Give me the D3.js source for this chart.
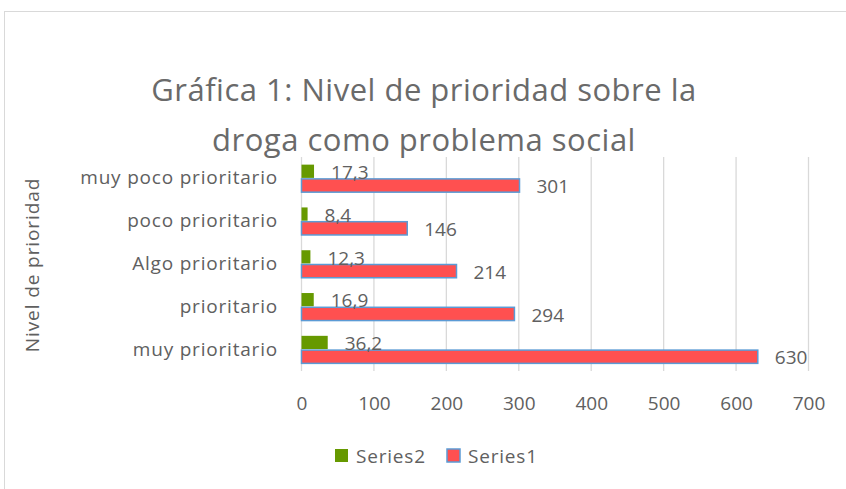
<!DOCTYPE html>
<html>
<head>
<meta charset="utf-8">
<script src="https://cdn.jsdelivr.net/npm/d3@7"></script>
<style>
  body { margin: 0; background: #fff; }
  svg text { font-family: "Open Sans", sans-serif; fill: #606060; }
</style>
</head>
<body>
<div id="chart"></div>
<script>
// data, top row first (as drawn)
var categories = ["muy poco prioritario", "poco prioritario", "Algo prioritario", "prioritario", "muy prioritario"];
var series1 = [301, 146, 214, 294, 630];
var series2 = [17.3, 8.4, 12.3, 16.9, 36.2];
var seriesNames = ["Series2", "Series1"];
var xTicks = [0, 100, 200, 300, 400, 500, 600, 700];
var titleLines = ["Gráfica 1: Nivel de prioridad sobre la", "droga como problema social"];
var yTitle = "Nivel de prioridad";

var width = 846, height = 489;
var colors = { Series2: "#669900", Series1: "#ff5050" };

var svg = d3.select("#chart")
    .append("svg")
    .attr("width", width)
    .attr("height", height);

// chart area border (runs past the right/bottom edges)
svg.append("rect")
    .attr("x", 4.5).attr("y", 11.5)
    .attr("width", 900).attr("height", 600)
    .attr("fill", "#fff")
    .attr("stroke", "#d9d9d9");

var x = d3.scaleLinear().domain([0, 700]).range([301.5, 808.5]);
var y = d3.scaleBand().domain(categories).range([157, 371])
    .paddingInner(1 / 3).paddingOuter(1 / 6);
var ySub = d3.scaleBand().domain(seriesNames).range([0, y.bandwidth()]);

// title
svg.append("g").selectAll("text")
    .data(titleLines)
    .enter().append("text")
    .attr("x", 424)
    .attr("y", function(d, i) { return 101 + i * 50; })
    .attr("text-anchor", "middle")
    .style("font-size", "31px")
    .style("letter-spacing", "0.5px")
    .style("fill", "#6a6a6a")
    .text(function(d) { return d; });

// gridlines
svg.append("g").selectAll("line")
    .data(xTicks)
    .enter().append("line")
    .attr("x1", function(d) { return x(d); })
    .attr("x2", function(d) { return x(d); })
    .attr("y1", 157).attr("y2", 371)
    .attr("stroke", "#d9d9d9")
    .attr("stroke-width", 1.3);

// x axis labels
var xAxis = d3.axisBottom(x).tickValues(xTicks).tickSize(0).tickPadding(0);
var gx = svg.append("g")
    .attr("transform", "translate(0,396)")
    .call(xAxis);
gx.select(".domain").remove();
gx.selectAll("text")
    .style("font-size", "19px")
    .attr("dy", "0.75em")
    .attr("fill", "#606060");

// category labels
var yAxis = d3.axisLeft(y).tickSize(0).tickPadding(0);
var gy = svg.append("g")
    .attr("transform", "translate(278,0)")
    .call(yAxis);
gy.select(".domain").remove();
gy.selectAll("text")
    .style("font-size", "19px")
    .style("letter-spacing", "0.8px")
    .attr("fill", "#606060");

// y title
svg.append("text")
    .attr("transform", "translate(39,265) rotate(-90)")
    .attr("text-anchor", "middle")
    .style("font-size", "19px")
    .style("letter-spacing", "0.9px")
    .text(yTitle);

// bars
var rows = categories.map(function(c, i) {
    return { cat: c, Series2: series2[i], Series1: series1[i] };
});

var groups = svg.append("g").selectAll("g")
    .data(rows)
    .enter().append("g")
    .attr("transform", function(d) { return "translate(0," + y(d.cat) + ")"; });

groups.selectAll("rect")
    .data(function(d) {
        return seriesNames.map(function(s) { return { key: s, value: d[s] }; });
    })
    .enter().append("rect")
    .attr("x", x(0))
    .attr("y", function(d) { return ySub(d.key) + 0.5; })
    .attr("width", function(d) { return x(d.value) - x(0); })
    .attr("height", ySub.bandwidth() - 1)
    .attr("fill", function(d) { return colors[d.key]; })
    .attr("stroke", function(d) { return d.key === "Series1" ? "#5b9bd5" : "none"; })
    .attr("stroke-width", 1.5);

groups.selectAll("text.val")
    .data(function(d) {
        return seriesNames.map(function(s) { return { key: s, value: d[s] }; });
    })
    .enter().append("text")
    .attr("class", "val")
    .attr("x", function(d) { return x(d.value) + 17; })
    .attr("y", function(d) { return ySub(d.key) + ySub.bandwidth() / 2 + 1; })
    .attr("dy", "0.35em")
    .style("font-size", "19px")
    .text(function(d) { return String(d.value).replace(".", ","); });

// legend
var legendItems = [
    { key: "Series2", x: 335 },
    { key: "Series1", x: 447 }
];
var legend = svg.append("g").selectAll("g")
    .data(legendItems)
    .enter().append("g")
    .attr("transform", function(d) { return "translate(" + d.x + ",449)"; });

legend.append("rect")
    .attr("width", 13).attr("height", 13)
    .attr("fill", function(d) { return colors[d.key]; })
    .attr("stroke", function(d) { return d.key === "Series1" ? "#5b9bd5" : "none"; })
    .attr("stroke-width", 1.5);

legend.append("text")
    .attr("x", 21)
    .attr("y", 7)
    .attr("dy", "0.35em")
    .style("font-size", "19px")
    .style("letter-spacing", "0.8px")
    .text(function(d) { return d.key; });
</script>
</body>
</html>
